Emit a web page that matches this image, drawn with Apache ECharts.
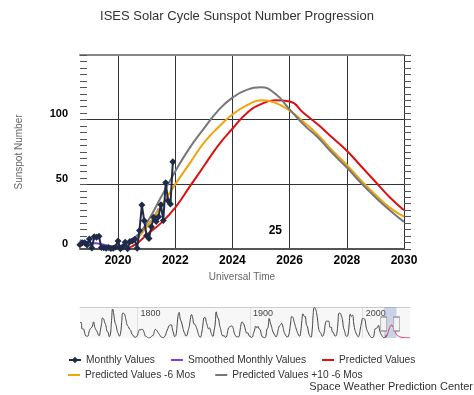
<!DOCTYPE html>
<html><head><meta charset="utf-8">
<script src="https://cdn.jsdelivr.net/npm/echarts@6/dist/echarts.min.js"></script>
<style>html,body{margin:0;padding:0;background:#fff}#c{width:474px;height:395px}</style>
</head><body><div id="c"></div>
<script>
// ---------- data ----------
const TITLE = 'ISES Solar Cycle Sunspot Number Progression';
const X_MIN = 2018.67, X_MAX = 2030;
const xTickYears = [2020, 2022, 2024, 2026, 2028, 2030];
const navTickYears = [1800, 1900, 2000];

// monthly observed values, starting 2018-09
const monthlyStart = '2018-09';
const monthlyValues = [3.3, 4.9, 4.9, 3.1,
  7.7, 0.8, 9.4, 9.1, 9.9, 1.2, 0.9, 0.5, 1.1, 0.4, 0.5, 1.5,
  6.2, 0.2, 1.5, 5.2, 0.2, 5.8, 6.1, 7.5, 0.6, 14.4, 34.0, 21.8,
  10.4, 8.2, 17.2, 24.5, 21.2, 25.0, 34.3, 22.0, 51.3, 37.4, 34.8, 67.5];

// smoothed monthly values, starting 2018-09
const smoothedStart = '2018-09';
const smoothedValues = [6.9, 6.3, 5.9, 5.5, 5.1, 4.7, 4.5, 4.4, 4.1, 3.6, 3.3, 2.9,
  2.4, 2.1, 1.9, 1.8, 2.0, 2.4, 2.9, 3.5, 4.6, 6.1, 7.6, 8.8, 10.4, 12.3, 14.4, 16.3,
  17.5, 19.5, 21.9, 24.4, 27.4, 31.3];

// predicted curves (year, value)
const predYears   = [2020.3, 2020.65, 2021.0, 2021.5, 2022.0, 2022.5, 2023.0, 2023.5, 2024.0, 2024.5, 2025.0, 2025.5, 2026.0, 2026.5, 2027.0, 2027.5, 2028.0, 2028.5, 2029.0, 2029.5, 2030.0];
const predValues  = [0.5, 4, 11, 20, 32, 48, 64, 80, 93, 105, 112, 115, 114, 105, 96, 86, 76, 64, 52, 40, 30];

const pred6Years  = [2019.95, 2020.5, 2021.0, 2021.5, 2022.0, 2022.5, 2023.0, 2023.5, 2024.0, 2024.5, 2025.0, 2025.5, 2026.0, 2026.5, 2027.0, 2027.5, 2028.0, 2028.5, 2029.0, 2029.5, 2030.0];
const pred6Values = [0.5, 5, 17, 33, 50, 66, 82, 94, 104, 111, 115, 113, 107, 98, 88, 76, 65, 53, 42, 32, 25];

const pred10Years  = [2019.95, 2020.5, 2021.0, 2021.5, 2022.0, 2022.5, 2023.0, 2023.5, 2024.0, 2024.5, 2025.0, 2025.5, 2026.0, 2026.5, 2027.0, 2027.5, 2028.0, 2028.5, 2029.0, 2029.5, 2030.0];
const pred10Values = [0.5, 6, 20, 40, 60, 78, 93, 107, 117, 123, 125, 120, 108, 96, 86, 74, 63, 51, 40, 30, 21];

// predicted tail shown in the navigator beyond 2030
const predTailYears  = [2031, 2032, 2033, 2034, 2036, 2038, 2040, 2042];
const predTailValues = [22, 15, 10, 7, 4, 3, 2, 2];

// yearly sunspot numbers for the navigator, starting 1749
const navStartYear = 1749;
const navValues = [
134.7,139.0,79.5,79.7,51.2,20.3,16.0,17.0,54.0,79.3,
90.0,104.8,143.2,102.0,75.2,60.7,34.8,19.0,63.0,116.3,
176.8,168.0,136.0,110.8,58.0,51.0,11.7,33.0,154.2,257.3,
209.8,141.3,113.5,64.2,38.0,17.0,40.2,138.2,220.0,218.2,
196.8,149.8,111.0,100.0,78.2,68.3,35.5,26.7,10.7,6.8,
11.3,24.2,56.7,75.0,71.8,79.2,70.3,46.8,16.8,13.5,
4.2,0.0,2.3,8.3,20.3,23.2,59.0,76.3,68.3,52.9,
38.5,24.2,9.2,6.3,2.2,11.4,28.2,59.9,83.0,108.5,
115.2,117.4,80.8,44.3,13.4,19.5,85.8,192.7,227.3,168.7,
143.0,105.5,63.3,40.3,18.1,25.1,65.8,102.7,166.3,208.3,
182.5,126.3,122.0,102.7,74.1,39.0,12.7,8.2,43.4,104.4,
178.3,182.2,146.6,112.1,83.5,89.2,57.8,30.7,13.9,62.8,
123.6,232.0,185.3,169.2,110.1,74.5,28.3,18.9,20.7,5.7,
10.0,53.7,90.5,99.0,106.1,105.8,86.3,42.4,21.8,11.2,
10.4,11.8,59.5,121.7,142.0,130.0,106.6,69.4,43.8,44.4,
20.2,15.7,4.6,8.5,40.8,70.1,105.5,90.1,102.8,80.9,
73.2,30.9,9.5,6.0,2.4,16.1,79.0,95.0,173.6,134.6,
105.7,62.7,43.5,23.7,9.7,27.9,74.0,106.5,114.7,129.7,
108.2,59.4,35.1,18.6,9.2,14.6,60.2,132.8,190.6,182.6,
148.0,113.0,79.2,50.8,27.1,16.1,55.3,154.3,214.7,193.0,
190.7,118.9,98.3,45.0,20.1,6.6,54.2,200.7,269.3,261.7,
225.1,159.0,76.4,53.4,39.9,15.0,22.0,66.8,132.9,150.0,
149.4,148.0,94.4,97.6,54.1,49.2,22.5,18.4,39.3,131.0,
220.1,218.9,198.9,162.4,91.0,60.5,20.6,14.8,33.9,123.0,
211.1,191.8,203.3,133.0,76.1,44.9,25.1,11.6,28.9,88.3,
136.3,173.9,170.4,163.6,99.3,65.3,45.8,24.7,12.6,4.2,
4.8,24.9,80.8,84.5,94.0,113.3,69.8,39.8,21.7,7.0,
3.6,8.8,29.6];

const cycleLabel = {text: '25', year: 2025.5, value: 14.5};

// ---------- helpers ----------
function monthSeries(start, values) {
  const [y, m] = start.split('-').map(Number);
  return values.map((v, i) => [y + (m - 1 + i) / 12, v]);
}
const pairs = (xs, ys) => xs.map((x, i) => [x, ys[i]]);

const FONT = '"Liberation Sans", Arial, Helvetica, sans-serif';
const C_MONTHLY = '#1d2a48', C_SMOOTH = '#7b3fe0', C_PRED = '#dd1111', C_PRED6 = '#f0a30a', C_PRED10 = '#777777';
const LINE_ICON = 'path://M0,0h12v2h-12z';
const legendText = {fontSize: 10.2, color: '#333', fontFamily: FONT};

const chart = echarts.init(document.getElementById('c'));
const option = {
  animation: false,
  textStyle: {fontFamily: FONT},
  title: {text: TITLE, left: 'center', top: 5,
    textStyle: {fontSize: 13, fontWeight: 'normal', color: '#333', fontFamily: FONT}},
  legend: [
    {data: ['Monthly Values', {name: 'Smoothed Monthly Values', icon: LINE_ICON}, {name: 'Predicted Values', icon: LINE_ICON}],
     left: 63, top: 350, itemGap: 16, itemWidth: 12, itemHeight: 8, textStyle: legendText},
    {data: [{name: 'Predicted Values -6 Mos', icon: LINE_ICON}, {name: 'Predicted Values +10 -6 Mos', icon: LINE_ICON}],
     left: 63, top: 365, itemGap: 20, itemWidth: 12, itemHeight: 8, textStyle: legendText}
  ],
  grid: [
    {left: 80, right: 70, top: 55, height: 194},
    {left: 80, right: 64, top: 307, height: 31, show: true, backgroundColor: '#f7f7f7', borderWidth: 0}
  ],
  xAxis: [
    {gridIndex: 0, type: 'value', min: X_MIN, max: X_MAX, position: 'bottom',
     name: 'Universal Time', nameLocation: 'middle', nameGap: 23,
     nameTextStyle: {color: '#666', fontSize: 10, fontFamily: FONT},
     axisLine: {show: true, onZero: false, lineStyle: {color: '#555', width: 2}},
     axisTick: {show: false, customValues: xTickYears},
     axisLabel: {customValues: xTickYears, color: '#000', fontWeight: 'bold', fontSize: 12, margin: 6,
       formatter: v => String(Math.round(v))},
     splitLine: {show: true, lineStyle: {color: '#333', width: 1}}},
    {gridIndex: 0, type: 'value', min: X_MIN, max: X_MAX, position: 'top',
     axisLine: {show: true, onZero: false, lineStyle: {color: '#888', width: 2}},
     axisTick: {show: false}, axisLabel: {show: false}, splitLine: {show: false}},
    {gridIndex: 1, type: 'value', min: navStartYear, max: 2042, position: 'top',
     axisLine: {show: true, onZero: false, lineStyle: {color: '#ccc', width: 1}},
     axisTick: {show: false, customValues: navTickYears},
     axisLabel: {customValues: navTickYears, inside: true, align: 'left', verticalAlign: 'top',
       margin: 2, padding: [0, 0, 0, 3], color: '#444', fontSize: 9, formatter: v => String(Math.round(v))},
     splitLine: {show: true, lineStyle: {color: '#e0e0e0', width: 1}}}
  ],
  yAxis: [
    {gridIndex: 0, type: 'value', min: 0, max: 150, interval: 50, position: 'left',
     name: 'Sunspot Number', nameLocation: 'middle', nameGap: 56,
     nameTextStyle: {color: '#666', fontSize: 10, fontFamily: FONT},
     axisLine: {show: false},
     axisTick: {show: true, inside: true, length: 7, lineStyle: {color: '#555'}},
     minorTick: {show: true, splitNumber: 10, length: 7, lineStyle: {color: '#555'}},
     axisLabel: {color: '#000', fontWeight: 'bold', fontSize: 11, margin: 12, showMaxLabel: false,
       verticalAlign: 'bottom', lineHeight: 11},
     splitLine: {show: true, lineStyle: {color: '#333', width: 1}}},
    {gridIndex: 0, type: 'value', min: 0, max: 150, interval: 50, position: 'right',
     axisLine: {show: false},
     axisTick: {show: true, inside: false, length: 7, lineStyle: {color: '#555'}},
     minorTick: {show: true, splitNumber: 10, length: 7, lineStyle: {color: '#555'}},
     axisLabel: {show: false}, splitLine: {show: false}},
    {gridIndex: 1, type: 'value', min: 0, max: 275, show: false}
  ],
  series: [
    {name: 'Smoothed Monthly Values', type: 'line', xAxisIndex: 0, yAxisIndex: 0,
     data: monthSeries(smoothedStart, smoothedValues), smooth: true, symbol: 'none',
     color: C_SMOOTH, lineStyle: {width: 2, color: C_SMOOTH}, z: 3},
    {name: 'Predicted Values', type: 'line', xAxisIndex: 0, yAxisIndex: 0,
     data: pairs(predYears, predValues), smooth: true, symbol: 'none',
     color: C_PRED, lineStyle: {width: 2, color: C_PRED}, z: 3,
     markPoint: {silent: true, symbol: 'rect', symbolSize: 1, itemStyle: {color: 'rgba(0,0,0,0)'},
       label: {show: true, position: 'inside', formatter: cycleLabel.text, color: '#000', fontWeight: 'bold', fontSize: 12},
       data: [{coord: [cycleLabel.year, cycleLabel.value]}]}},
    {name: 'Predicted Values -6 Mos', type: 'line', xAxisIndex: 0, yAxisIndex: 0,
     data: pairs(pred6Years, pred6Values), smooth: true, symbol: 'none',
     color: C_PRED6, lineStyle: {width: 2, color: C_PRED6}, z: 3},
    {name: 'Predicted Values +10 -6 Mos', type: 'line', xAxisIndex: 0, yAxisIndex: 0,
     data: pairs(pred10Years, pred10Values), smooth: true, symbol: 'none',
     color: C_PRED10, lineStyle: {width: 2, color: C_PRED10}, z: 3},
    {name: 'Monthly Values', type: 'line', xAxisIndex: 0, yAxisIndex: 0,
     data: monthSeries(monthlyStart, monthlyValues), symbol: 'diamond', symbolSize: 7,
     color: C_MONTHLY, itemStyle: {color: C_MONTHLY}, lineStyle: {width: 2, color: C_MONTHLY}, z: 4},
    // navigator
    {name: 'nav-history', type: 'line', xAxisIndex: 2, yAxisIndex: 2, silent: true,
     data: navValues.map((v, i) => [navStartYear + i, v]), smooth: true, symbol: 'none',
     lineStyle: {width: 1, color: '#444'}, z: 2,
     markArea: {silent: true, itemStyle: {color: 'rgba(102,133,194,0.3)'},
       data: [[{xAxis: X_MIN}, {xAxis: X_MAX}]]},
     markPoint: {silent: true, symbol: 'rect', symbolSize: [6, 14],
       itemStyle: {color: '#f2f2f2', borderColor: '#999', borderWidth: 1}, label: {show: false},
       data: [{coord: [X_MIN, 125]}, {coord: [X_MAX, 125]}]}},
    {name: 'nav-pred', type: 'line', xAxisIndex: 2, yAxisIndex: 2, silent: true,
     data: pairs(predYears, predValues).concat(pairs(predTailYears, predTailValues)), smooth: true, symbol: 'none',
     lineStyle: {width: 1, color: '#dd3355'}, z: 2}
  ],
  graphic: [
    {type: 'text', right: 1, top: 381,
     style: {text: 'Space Weather Prediction Center', fontSize: 11, fill: '#333', fontFamily: FONT}}
  ]
};
chart.setOption(option);
</script>
</body></html>
